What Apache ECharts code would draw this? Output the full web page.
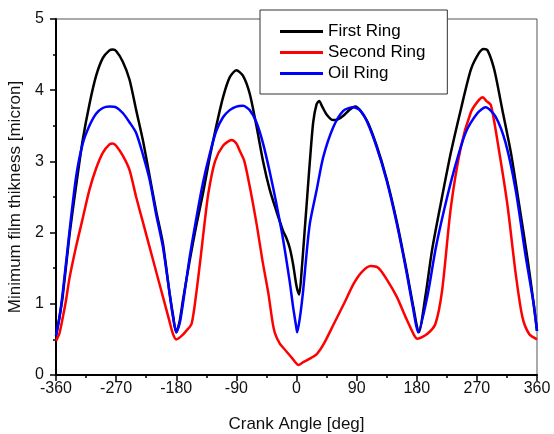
<!DOCTYPE html>
<html>
<head>
<meta charset="utf-8">
<script src="https://cdn.jsdelivr.net/npm/echarts@6/dist/echarts.min.js"></script>
<style>
  html, body { margin: 0; padding: 0; background: #fff; }
  #chart { width: 554px; height: 434px; }
</style>
</head>
<body>
<div id="chart"></div>
<script>
// crank angle [deg] / film thickness [micron]
var firstDeg = [-360, -355, -350, -340, -330, -320, -310, -300, -290, -280, -275, -270, -260, -250, -240, -230, -220, -210, -200, -190, -185, -180,
  -175, -170, -160, -150, -140, -130, -120, -110, -100, -90, -80, -70, -60, -50, -40, -30, -20, -15, -10, -5, 0, 4,
  8, 12, 16, 20, 25, 30, 34, 38, 45, 55, 62, 70, 80, 88, 105, 120, 135, 150, 165, 175, 183,
  193, 203, 216, 231, 246, 261, 273, 280, 286, 296, 308, 321, 333, 346, 355, 360]
var firstVal = [0.55, 0.8, 1.1, 1.95, 2.65, 3.3, 3.8, 4.2, 4.45, 4.56, 4.57, 4.55, 4.4, 4.15, 3.72, 3.3, 2.8, 2.3, 1.85, 1.15, 0.85, 0.6,
  0.75, 1.05, 1.6, 2.1, 2.55, 3.05, 3.5, 3.9, 4.18, 4.28, 4.2, 3.95, 3.5, 3.0, 2.6, 2.3, 2.02, 1.92, 1.78, 1.55, 1.25, 1.13,
  1.5, 2.0, 2.5, 3.0, 3.55, 3.8, 3.85, 3.78, 3.66, 3.58, 3.59, 3.64, 3.73, 3.77, 3.58, 3.22, 2.75, 2.16, 1.46, 0.95, 0.6,
  1.11, 1.76, 2.41, 3.12, 3.73, 4.29, 4.52, 4.58, 4.56, 4.29, 3.73, 3.12, 2.41, 1.62, 1.0, 0.62]

var secondDeg = [-360, -355, -350, -345, -340, -330, -320, -310, -300, -290, -280, -275, -270, -260, -250, -240, -230, -220, -210, -200, -190, -185, -180,
  -172, -165, -157, -150, -144, -138, -132, -122, -110, -97, -90, -85, -78, -68, -59, -51, -42, -36, -32, -25, -15, -6, 3,
  10, 20, 30, 41, 56, 71, 86, 98, 111, 123, 136, 150, 163, 176, 181,
  196, 208, 218, 231, 246, 261, 272, 279, 284, 291, 303, 316, 328, 338, 348, 360]
var secondVal = [0.48, 0.58, 0.8, 1.05, 1.35, 1.8, 2.2, 2.6, 2.9, 3.12, 3.24, 3.25, 3.22, 3.08, 2.88, 2.5, 2.15, 1.8, 1.45, 1.1, 0.75, 0.58, 0.5,
  0.55, 0.62, 0.72, 1.15, 1.61, 2.1, 2.55, 3.0, 3.22, 3.3, 3.25, 3.15, 3.0, 2.55, 2.08, 1.61, 1.14, 0.75, 0.58, 0.44, 0.33, 0.23, 0.14,
  0.18, 0.23, 0.29, 0.44, 0.72, 1.0, 1.29, 1.45, 1.53, 1.5, 1.33, 1.1, 0.82, 0.56, 0.51,
  0.58, 0.72, 1.19, 2.35, 3.2, 3.69, 3.85, 3.9, 3.85, 3.79, 3.16, 2.37, 1.43, 0.82, 0.58, 0.5]

var oilDeg = [-360, -355, -350, -340, -330, -320, -310, -300, -290, -280, -270, -260, -250, -240, -230, -220, -210, -200, -190, -185, -180,
  -175, -170, -160, -150, -140, -130, -120, -110, -100, -90, -80, -70, -60, -50, -40, -30, -20, -10, -5, 0, 1,
  5, 10, 15, 20, 30, 40, 55, 70, 85, 95, 105, 120, 135, 150, 165, 175, 182,
  196, 208, 221, 236, 253, 271, 283, 298, 313, 328, 343, 355, 360]
var oilVal = [0.55, 0.8, 1.15, 2.0, 2.78, 3.25, 3.5, 3.67, 3.75, 3.77, 3.76, 3.68, 3.55, 3.4, 3.1, 2.75, 2.25, 1.8, 1.15, 0.82, 0.6,
  0.72, 1.0, 1.65, 2.2, 2.7, 3.1, 3.43, 3.62, 3.72, 3.77, 3.78, 3.72, 3.55, 3.25, 2.85, 2.4, 1.9, 1.3, 0.95, 0.65, 0.6,
  0.8, 1.19, 1.7, 2.13, 2.59, 3.06, 3.48, 3.71, 3.76, 3.72, 3.57, 3.2, 2.73, 2.13, 1.43, 0.91, 0.6,
  1.11, 1.76, 2.32, 2.88, 3.4, 3.68, 3.76, 3.63, 3.26, 2.6, 1.67, 1.0, 0.62]

var seriesNames = ['First Ring', 'Second Ring', 'Oil Ring']
var seriesColors = ['#000000', '#ff0000', '#0000ff']

function pairs(xs, ys) {
  return xs.map(function (x, i) { return [x, ys[i]] })
}

var font = '"Liberation Sans", Arial, sans-serif'
var myChart = echarts.init(document.getElementById('chart'))

function ring(idx, data) {
  return {
    name: seriesNames[idx],
    type: 'line',
    data: data,
    showSymbol: false,
    symbol: 'none',
    smooth: 0.25,
    lineStyle: { color: seriesColors[idx], width: 2.5 },
    itemStyle: { color: seriesColors[idx] },
  }
}

var option = {
  animation: false,
  backgroundColor: '#fff',
  grid: {
    left: 56,
    right: 17,
    top: 19,
    bottom: 59,
    outerBoundsMode: 'none',
    show: true,
    borderColor: '#555',
    borderWidth: 1,
  },
  legend: {
    orient: 'vertical',
    left: 260,
    top: 10,
    padding: [13, 22, 12, 20],
    itemGap: 4,
    itemWidth: 43,
    itemHeight: 3,
    icon: 'rect',
    backgroundColor: '#fff',
    borderColor: '#333',
    borderWidth: 1,
    borderRadius: 0,
    textStyle: { fontSize: 17, color: '#000', fontFamily: font },
    data: seriesNames,
  },
  xAxis: {
    type: 'value',
    min: -360,
    max: 360,
    interval: 90,
    name: 'Crank Angle [deg]',
    nameLocation: 'middle',
    nameGap: 41,
    nameTextStyle: { fontSize: 17, color: '#111', fontFamily: font },
    axisLine: { onZero: false, lineStyle: { color: '#000', width: 2 } },
    axisTick: { inside: false, length: 6, lineStyle: { color: '#000', width: 1.5 } },
    minorTick: { show: true, splitNumber: 2, length: 3, lineStyle: { color: '#000', width: 1.5 } },
    splitLine: { show: false },
    axisLabel: { fontSize: 16, color: '#111', margin: 6, fontFamily: font },
  },
  yAxis: {
    type: 'value',
    min: 0,
    max: 5,
    interval: 1,
    name: 'Minimum film thikness [micron]',
    nameLocation: 'middle',
    nameGap: 29,
    nameTextStyle: { fontSize: 17, color: '#111', fontFamily: font },
    axisLine: { show: true, onZero: false, lineStyle: { color: '#000', width: 2 } },
    axisTick: { show: true, inside: false, length: 6, lineStyle: { color: '#000', width: 1.5 } },
    minorTick: { show: true, splitNumber: 2, length: 3, lineStyle: { color: '#000', width: 1.5 } },
    splitLine: { show: false },
    axisLabel: { fontSize: 16, color: '#111', margin: 12, fontFamily: font },
  },
  series: [
    ring(0, pairs(firstDeg, firstVal)),
    ring(1, pairs(secondDeg, secondVal)),
    ring(2, pairs(oilDeg, oilVal)),
  ],
}

myChart.setOption(option)
</script>
</body>
</html>
